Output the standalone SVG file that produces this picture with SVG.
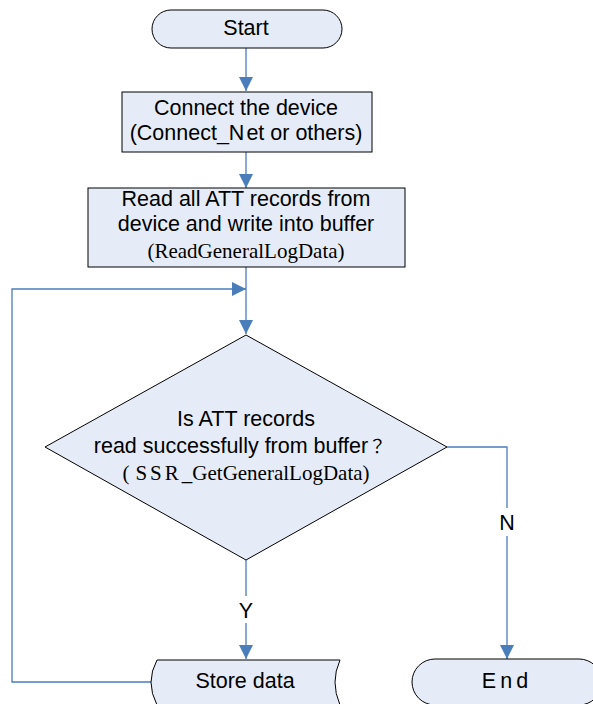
<svg xmlns="http://www.w3.org/2000/svg" width="593" height="704" viewBox="0 0 593 704">
  <style>
    .shape { fill: #e6ecf7; stroke: #000; stroke-width: 1; }
    .conn { fill: none; stroke: #4a7ebb; stroke-width: 1.3; }
    .t { font-family: "Liberation Sans", Arial, sans-serif; font-size: 21.5px; fill: #000; text-anchor: middle; }
    .tr { font-family: "Liberation Serif", "Times New Roman", serif; font-size: 21px; fill: #000; text-anchor: middle; }
    .cjk { font-family: "Noto Sans CJK JP", "Noto Sans CJK SC", sans-serif; font-size: 18px; }
  </style>
  <defs>
    <marker id="arrow" markerUnits="userSpaceOnUse" markerWidth="14" markerHeight="14" viewBox="0 0 14 14" refX="14" refY="7" orient="auto">
      <path d="M0,0 L14,7 L0,14 Z" fill="#4a7ebb"/>
    </marker>
  </defs>

  <!-- connectors -->
  <g id="connectors">
    <line class="conn" x1="246" y1="48" x2="246" y2="91" marker-end="url(#arrow)"/>
    <line class="conn" x1="246" y1="152" x2="246" y2="188" marker-end="url(#arrow)"/>
    <line class="conn" x1="246" y1="267" x2="246" y2="334" marker-end="url(#arrow)"/>
    <polyline class="conn" points="151,682 12,682 12,289 246,289" marker-end="url(#arrow)"/>
    <line class="conn" x1="246" y1="560" x2="246" y2="596"/>
    <line class="conn" x1="246" y1="623" x2="246" y2="659" marker-end="url(#arrow)"/>
    <polyline class="conn" points="447,447 507,447 507,508"/>
    <line class="conn" x1="507" y1="536" x2="507" y2="659" marker-end="url(#arrow)"/>
  </g>

  <g id="start">
    <rect class="shape" x="152" y="10" width="190" height="38" rx="19" ry="19"/>
    <text class="t" x="246" y="35">Start</text>
  </g>

  <g id="connect">
    <rect class="shape" x="122" y="92" width="250" height="60"/>
    <text class="t" x="246" y="115">Connect the device</text>
    <text class="t" x="246" y="140">(Connect_N<tspan dx="2">et or others)</tspan></text>
  </g>

  <g id="read">
    <rect class="shape" x="88" y="188" width="317" height="79"/>
    <text class="t" x="246" y="206">Read all ATT records from</text>
    <text class="t" x="246" y="231">device and write into buffer</text>
    <text class="tr" x="246" y="258">(ReadGeneralLogData)</text>
  </g>

  <g id="decision">
    <polygon class="shape" points="246,335 447,447 246,560 45,447"/>
    <text class="t" x="246" y="426">Is ATT records</text>
    <text class="t" x="240" y="453">read successfully from buffer<tspan class="cjk">？</tspan></text>
    <text class="tr" x="246" y="480">(<tspan dx="6" letter-spacing="3">SSR</tspan>_GetGeneralLogData)</text>
  </g>

  <g id="label-y">
    <text class="t" x="246" y="618">Y</text>
  </g>
  <g id="label-n">
    <text class="t" x="507" y="530">N</text>
  </g>

  <g id="store">
    <path class="shape" d="M157,660 L340,660 Q330,682 340,705 L157,705 Q145,682 157,660 Z"/>
    <text class="t" x="245" y="688">Store data</text>
  </g>

  <g id="end">
    <rect class="shape" x="412" y="659" width="190" height="46" rx="23" ry="23"/>
    <text class="t" x="507" y="688" letter-spacing="4">End</text>
  </g>
</svg>
